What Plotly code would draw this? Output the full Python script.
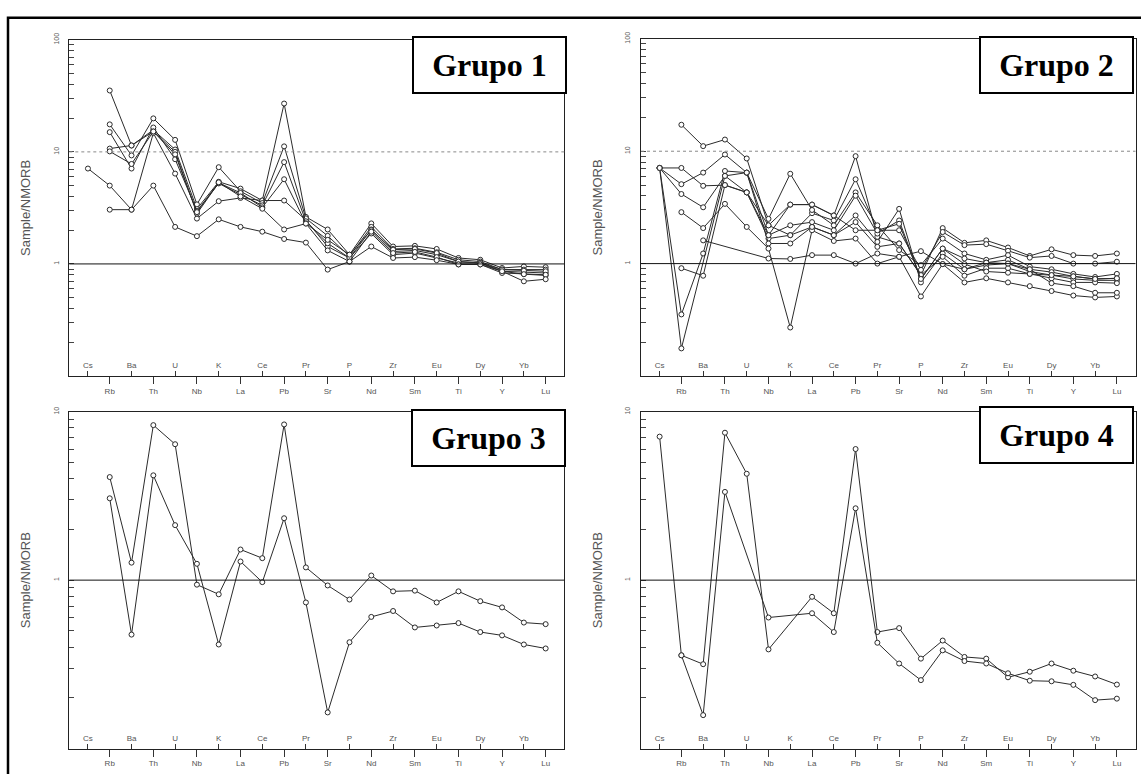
import math
import plotly.graph_objects as go

W, H = 1141, 774

elements = ["Cs", "Rb", "Ba", "Th", "U", "Nb", "K", "La", "Ce", "Pb", "Pr",
            "Sr", "P", "Nd", "Zr", "Sm", "Eu", "Ti", "Dy", "Y", "Yb", "Lu"]

# ---------------- Grupo 1 (Sample / NMORB) ----------------
g1_s1 = [7.1, 5.0, 3.05, 14.7, 6.4, 2.54, 3.63, 3.88, 3.68, 3.68, 2.46, 1.43, 1.13, 1.87, 1.21, 1.25, 1.13, 1.02, 1.02, 0.86, 0.81, 0.79]
g1_s2 = [None, 35.3, 11.4, 15.7, 10.5, 3.1, 5.41, 4.7, 3.68, 27.0, 2.63, 2.03, 1.21, 2.3, 1.43, 1.45, 1.36, 1.13, 1.09, 0.92, 0.95, 0.935]
g1_s3 = [None, 17.6, 9.3, 19.9, 12.8, 3.4, 7.3, 4.45, 3.49, 11.2, 2.55, 1.78, 1.17, 2.14, 1.36, 1.38, 1.27, 1.09, 1.05, 0.89, 0.89, 0.89]
g1_s4 = [None, 15.0, 7.1, 16.5, 8.6, 2.97, 5.23, 4.16, 3.33, 8.1, 2.4, 1.53, 1.13, 2.03, 1.29, 1.32, 1.21, 1.05, 1.02, 0.86, 0.845, 0.83]
g1_s5 = [None, 10.7, 11.4, 15.2, 10.0, 2.81, 5.3, 4.3, 3.2, 5.7, 2.3, 1.64, 1.21, 2.0, 1.34, 1.36, 1.25, 1.05, 1.02, 0.89, 0.87, 0.86]
g1_s6 = [None, 10.1, 7.8, 15.2, 9.5, 2.9, 5.35, 4.0, 3.11, 2.03, 2.29, 1.32, 1.05, 1.94, 1.25, 1.28, 1.15, 0.99, 0.99, 0.83, 0.81, 0.80]
g1_s7 = [None, 3.05, 3.05, 5.0, 2.14, 1.77, 2.5, 2.14, 1.94, 1.67, 1.55, 0.89, 1.05, 1.43, 1.13, 1.15, 1.08, 0.99, 0.99, 0.86, 0.70, 0.73]

# ---------------- Grupo 2 ----------------
g2_s1 = [None, 17.2, 11.1, 12.7, 8.62, 2.19, 3.35, 3.35, 2.68, 9.04, 1.73, 1.51, 0.79, 2.07, 1.53, 1.61, 1.39, 1.17, 1.34, 1.19, 1.17, 1.23]
g2_s2 = [7.1, 7.1, 4.92, 4.99, 4.3, 1.67, 1.79, 2.81, 2.42, 5.63, 1.98, 1.98, 0.88, 1.91, 1.46, 1.49, 1.3, 1.13, 1.17, 1.0, 1.0, 1.04]
g2_s3 = [7.1, 5.09, 6.45, 9.35, 6.45, 2.5, 6.3, 3.0, 2.19, 4.3, 2.19, 1.32, 0.97, 1.67, 1.23, 1.08, 1.19, 0.94, 0.89, 0.81, 0.76, 0.81]
g2_s4 = [7.1, 4.16, 3.17, 6.03, 6.45, 1.79, 2.19, 2.34, 1.98, 4.02, 1.85, 2.42, 0.73, 1.36, 1.11, 1.02, 1.08, 0.89, 0.84, 0.77, 0.73, 0.74]
g2_s5 = [7.1, 0.353, 1.23, 6.67, 6.45, 1.51, 1.51, 2.12, 1.79, 2.68, 1.56, 3.07, 0.68, 1.23, 0.89, 0.97, 1.0, 0.85, 0.79, 0.73, 0.71, 0.71]
g2_s6 = [None, 2.87, 2.07, 3.4, 2.12, 1.36, 0.27, 1.98, 1.59, 1.67, 1.0, 1.15, 0.51, 0.99, 0.68, 0.74, 0.68, 0.63, 0.57, 0.52, 0.50, 0.51]
g2_s7 = [7.1, 0.176, None, 6.03, 4.3, 2.19, 1.79, 2.12, 1.79, 2.34, 1.41, 1.51, 0.79, 1.15, 0.78, 0.91, 0.91, 0.81, 0.74, 0.68, 0.68, 0.67]
g2_s8 = [None, 0.91, 0.78, 5.0, 4.3, 1.79, 3.35, 3.35, 2.68, 1.98, 1.98, 2.26, 0.73, 1.36, 0.99, 0.85, 0.83, 0.81, 0.79, 0.77, 0.73, 0.74]
g2_s9 = [None, None, 1.61, None, None, 1.11, 1.1, 1.19, 1.19, 1.0, 1.23, 1.15, 1.29, 0.99, 0.89, 1.02, 1.0, 0.89, 0.67, 0.63, 0.55, 0.55]

# ---------------- Grupo 3 ----------------
g3_s1 = [None, 4.09, 1.27, 8.32, 6.41, 0.94, 0.824, 1.52, 1.35, 8.4, 1.19, 0.93, 0.767, 1.065, 0.858, 0.866, 0.737, 0.858, 0.75, 0.689, 0.56, 0.548]
g3_s2 = [None, 3.06, 0.475, 4.19, 2.12, 1.25, 0.415, 1.29, 0.973, 2.33, 0.737, 0.164, 0.428, 0.605, 0.656, 0.524, 0.538, 0.556, 0.492, 0.47, 0.415, 0.393]

# ---------------- Grupo 4 ----------------
g4_s1 = [7.11, 0.358, 0.317, 7.5, 4.28, 0.388, None, 0.796, 0.636, 6.0, 0.492, 0.519, 0.342, 0.438, 0.35, 0.342, 0.265, 0.286, 0.32, 0.29, 0.268, 0.24]
g4_s2 = [None, 0.358, 0.158, 3.34, None, 0.60, None, 0.636, 0.492, 2.67, 0.425, 0.32, 0.255, 0.383, 0.331, 0.32, 0.28, 0.253, 0.251, 0.239, 0.194, 0.198]

group_titles = ["Grupo 1", "Grupo 2", "Grupo 3", "Grupo 4"]
group_series = [
    [g1_s1, g1_s2, g1_s3, g1_s4, g1_s5, g1_s6, g1_s7],
    [g2_s1, g2_s2, g2_s3, g2_s4, g2_s5, g2_s6, g2_s7, g2_s8, g2_s9],
    [g3_s1, g3_s2],
    [g4_s1, g4_s2],
]
y_decades = [(-1, 2), (-1, 2), (-1, 1), (-1, 1)]   # log10 of axis limits
solid_ref = 1          # reference line at Sample/NMORB = 1
dotted_ref = 10        # dotted reference line (panels 1, 2)
dotted_panels = [0, 1]
y_title = "Sample/NMORB"

# ---------------- layout geometry (pixels) ----------------
panel_px = [
    (69.3, 564.3, 33.3, 374.3),
    (641.0, 1135.5, 32.3, 374.3),
    (69.3, 564.3, 410.5, 752.3),
    (641.0, 1135.5, 410.5, 752.3),
]
box_px = [(489.2, 59.2), (1056.0, 58.5), (488.5, 437.5), (1056.0, 434.0)]

LINE_C = "#2b2b2b"
TICK_C = "#555555"
xs = list(range(len(elements)))
lower_idx = xs[1::2]
upper_idx = xs[0::2]
x_range = [-0.855, len(elements) - 1 + 0.855]

fig = go.Figure()
layout = dict(
    width=W, height=H, margin=dict(l=0, r=0, t=0, b=0),
    paper_bgcolor="white", plot_bgcolor="white", showlegend=False,
    shapes=[], annotations=[],
)

for p in range(4):
    n = p + 1
    xa = "x" if n == 1 else f"x{n}"
    ya = "y" if n == 1 else f"y{n}"
    xo = f"x{n + 4}"
    x0, x1, yt, yb = panel_px[p]
    xdom = [x0 / W, x1 / W]
    ydom = [1 - yb / H, 1 - yt / H]
    lo, hi = y_decades[p]

    for s in group_series[p]:
        fig.add_trace(go.Scatter(
            x=xs, y=s, xaxis=xa, yaxis=ya, mode="lines+markers",
            connectgaps=True, hoverinfo="skip",
            line=dict(color=LINE_C, width=1),
            marker=dict(symbol="circle", size=5, color="white",
                        line=dict(color=LINE_C, width=1)),
        ))
    # dummy trace to register the overlay axis carrying the upper labels
    fig.add_trace(go.Scatter(x=upper_idx, y=[None] * len(upper_idx),
                             xaxis=xo, yaxis=ya, mode="markers",
                             hoverinfo="skip", showlegend=False))

    tv, tt = [], []
    for e in range(lo, hi):
        for m in range(1, 10):
            tv.append(m * 10 ** e)
            tt.append((("%g" % (10 ** e)) if m == 1 else ""))
    tv.append(10 ** hi)
    tt.append("%g" % (10 ** hi))

    layout["xaxis" if n == 1 else f"xaxis{n}"] = dict(
        domain=xdom, anchor=ya, range=x_range,
        tickmode="array", tickvals=lower_idx,
        ticktext=[elements[i] for i in lower_idx],
        ticks="outside", ticklen=7, tickwidth=1, tickcolor="#333",
        tickfont=dict(family="Arial, Liberation Sans", size=8, color=TICK_C),
        showline=True, linecolor="#222", linewidth=1, mirror=True,
        showgrid=False, zeroline=False,
    )
    layout[f"xaxis{n + 4}"] = dict(
        domain=xdom, anchor=ya, overlaying=xa, side="bottom", range=x_range,
        tickmode="array", tickvals=upper_idx,
        ticktext=[elements[i] for i in upper_idx],
        ticks="inside", ticklen=5, tickwidth=1, tickcolor="#333",
        ticklabelposition="inside",
        tickfont=dict(family="Arial, Liberation Sans", size=8, color=TICK_C),
        showline=False, showgrid=False, zeroline=False,
    )
    layout["yaxis" if n == 1 else f"yaxis{n}"] = dict(
        domain=ydom, anchor=xa, type="log", range=[lo, hi],
        tickmode="array", tickvals=tv, ticktext=tt, tickangle=-90,
        ticks="inside", ticklen=5, tickwidth=1, tickcolor="#444",
        ticklabelstandoff=7,
        tickfont=dict(family="Arial, Liberation Sans", size=7, color=TICK_C),
        showline=True, linecolor="#222", linewidth=1, mirror=True,
        showgrid=False, zeroline=False,
        title=dict(text=y_title, standoff=18,
                   font=dict(family="Arial, Liberation Sans", size=13, color="#555")),
    )

    layout["shapes"].append(dict(
        type="line", xref=f"{xa} domain", yref=ya, x0=0, x1=1,
        y0=solid_ref, y1=solid_ref, line=dict(color="#111", width=1)))
    if p in dotted_panels:
        layout["shapes"].append(dict(
            type="line", xref=f"{xa} domain", yref=ya, x0=0, x1=1,
            y0=dotted_ref, y1=dotted_ref,
            line=dict(color="#888", width=1, dash="dot")))

    bx, by = box_px[p]
    layout["annotations"].append(dict(
        text=f"<b>{group_titles[p]}</b>", xref="paper", yref="paper",
        x=bx / W, y=1 - by / H, xanchor="center", yanchor="middle",
        showarrow=False, width=149, height=52, align="center", valign="middle",
        font=dict(family="Liberation Serif, Times New Roman", size=32, color="black"),
        bgcolor="white", bordercolor="black", borderwidth=2, borderpad=1,
    ))

# outer frame of the figure
layout["shapes"].append(dict(
    type="rect", xref="paper", yref="paper",
    x0=8.0 / W, x1=1.02, y0=-0.02, y1=1 - 11 / H,
    line=dict(color="black", width=2.5), layer="above"))

fig.update_layout(**layout)
fig.write_html("out.html", config={"displayModeBar": False},
               post_script="document.body.style.margin='0';")
